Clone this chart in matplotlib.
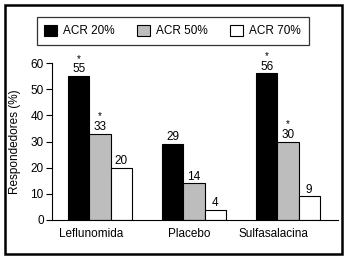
import matplotlib.pyplot as plt
from matplotlib.patches import Rectangle, Patch
import numpy as np

plt.rcParams['font.family'] = ['Liberation Sans', 'DejaVu Sans']

# data
groups = ['Leflunomida', 'Placebo', 'Sulfasalacina']
series = ['ACR 20%', 'ACR 50%', 'ACR 70%']
acr20 = [55, 29, 56]
acr50 = [33, 14, 30]
acr70 = [20, 4, 9]
stars20 = [True, False, True]
stars50 = [True, False, True]
stars70 = [False, False, False]
colors = ['black', '#bdbdbd', 'white']

W, H = 346, 258
fig = plt.figure(figsize=(W / 100, H / 100), dpi=100)
ax = fig.add_axes([52 / W, 1 - 220 / H, (338 - 52) / W, (220 - 63) / H])

x = np.arange(len(groups))
bw = 0.225
for i, (vals, stars) in enumerate(zip([acr20, acr50, acr70],
                                      [stars20, stars50, stars70])):
    pos = x + (i - 1) * bw
    bars = ax.bar(pos, vals, bw, color=colors[i], edgecolor='black',
                  linewidth=0.8, label=series[i])
    ax.bar_label(bars, labels=[str(v) for v in vals], padding=0.5,
                 fontsize=8.5)
    for p, v, s in zip(pos, vals, stars):
        if s:
            ax.annotate('*', (p, v), xytext=(0, 9), textcoords='offset points',
                        ha='center', va='bottom', fontsize=7)

ax.set_xlim(-0.511, 2.532)
ax.set_ylim(0, 60)
ax.set_yticks(range(0, 61, 10))
ax.set_xticks(x + np.array([-0.1, -0.05, -0.15]))
ax.set_xticklabels(groups, fontsize=8.5)
ax.tick_params(axis='x', length=0, pad=6)
ax.tick_params(axis='y', labelsize=8.5, length=4, width=0.8, pad=2)
ax.spines['top'].set_visible(False)
ax.spines['right'].set_visible(False)
ax.spines['left'].set_linewidth(0.8)
ax.spines['bottom'].set_linewidth(0.8)
ax.set_ylabel('Respondedores (%)', fontsize=8.5, labelpad=7)

handles = [Patch(facecolor=c, edgecolor='black', linewidth=0.8) for c in colors]
leg = fig.legend(handles, series, ncol=3, loc='center',
                 bbox_to_anchor=(172.5 / W, 1 - 31 / H), fontsize=8.5,
                 frameon=True, fancybox=False, edgecolor='black',
                 handlelength=1.1, handleheight=1.1, columnspacing=1.9,
                 handletextpad=0.5, borderpad=0.65, borderaxespad=0)
leg.get_frame().set_linewidth(0.9)

fig.patches.append(Rectangle((5 / W, 4.5 / H), 336.5 / W, 249 / H,
                             transform=fig.transFigure, fill=False,
                             edgecolor='black', linewidth=1.8))

fig.savefig('out.png', dpi=100)
